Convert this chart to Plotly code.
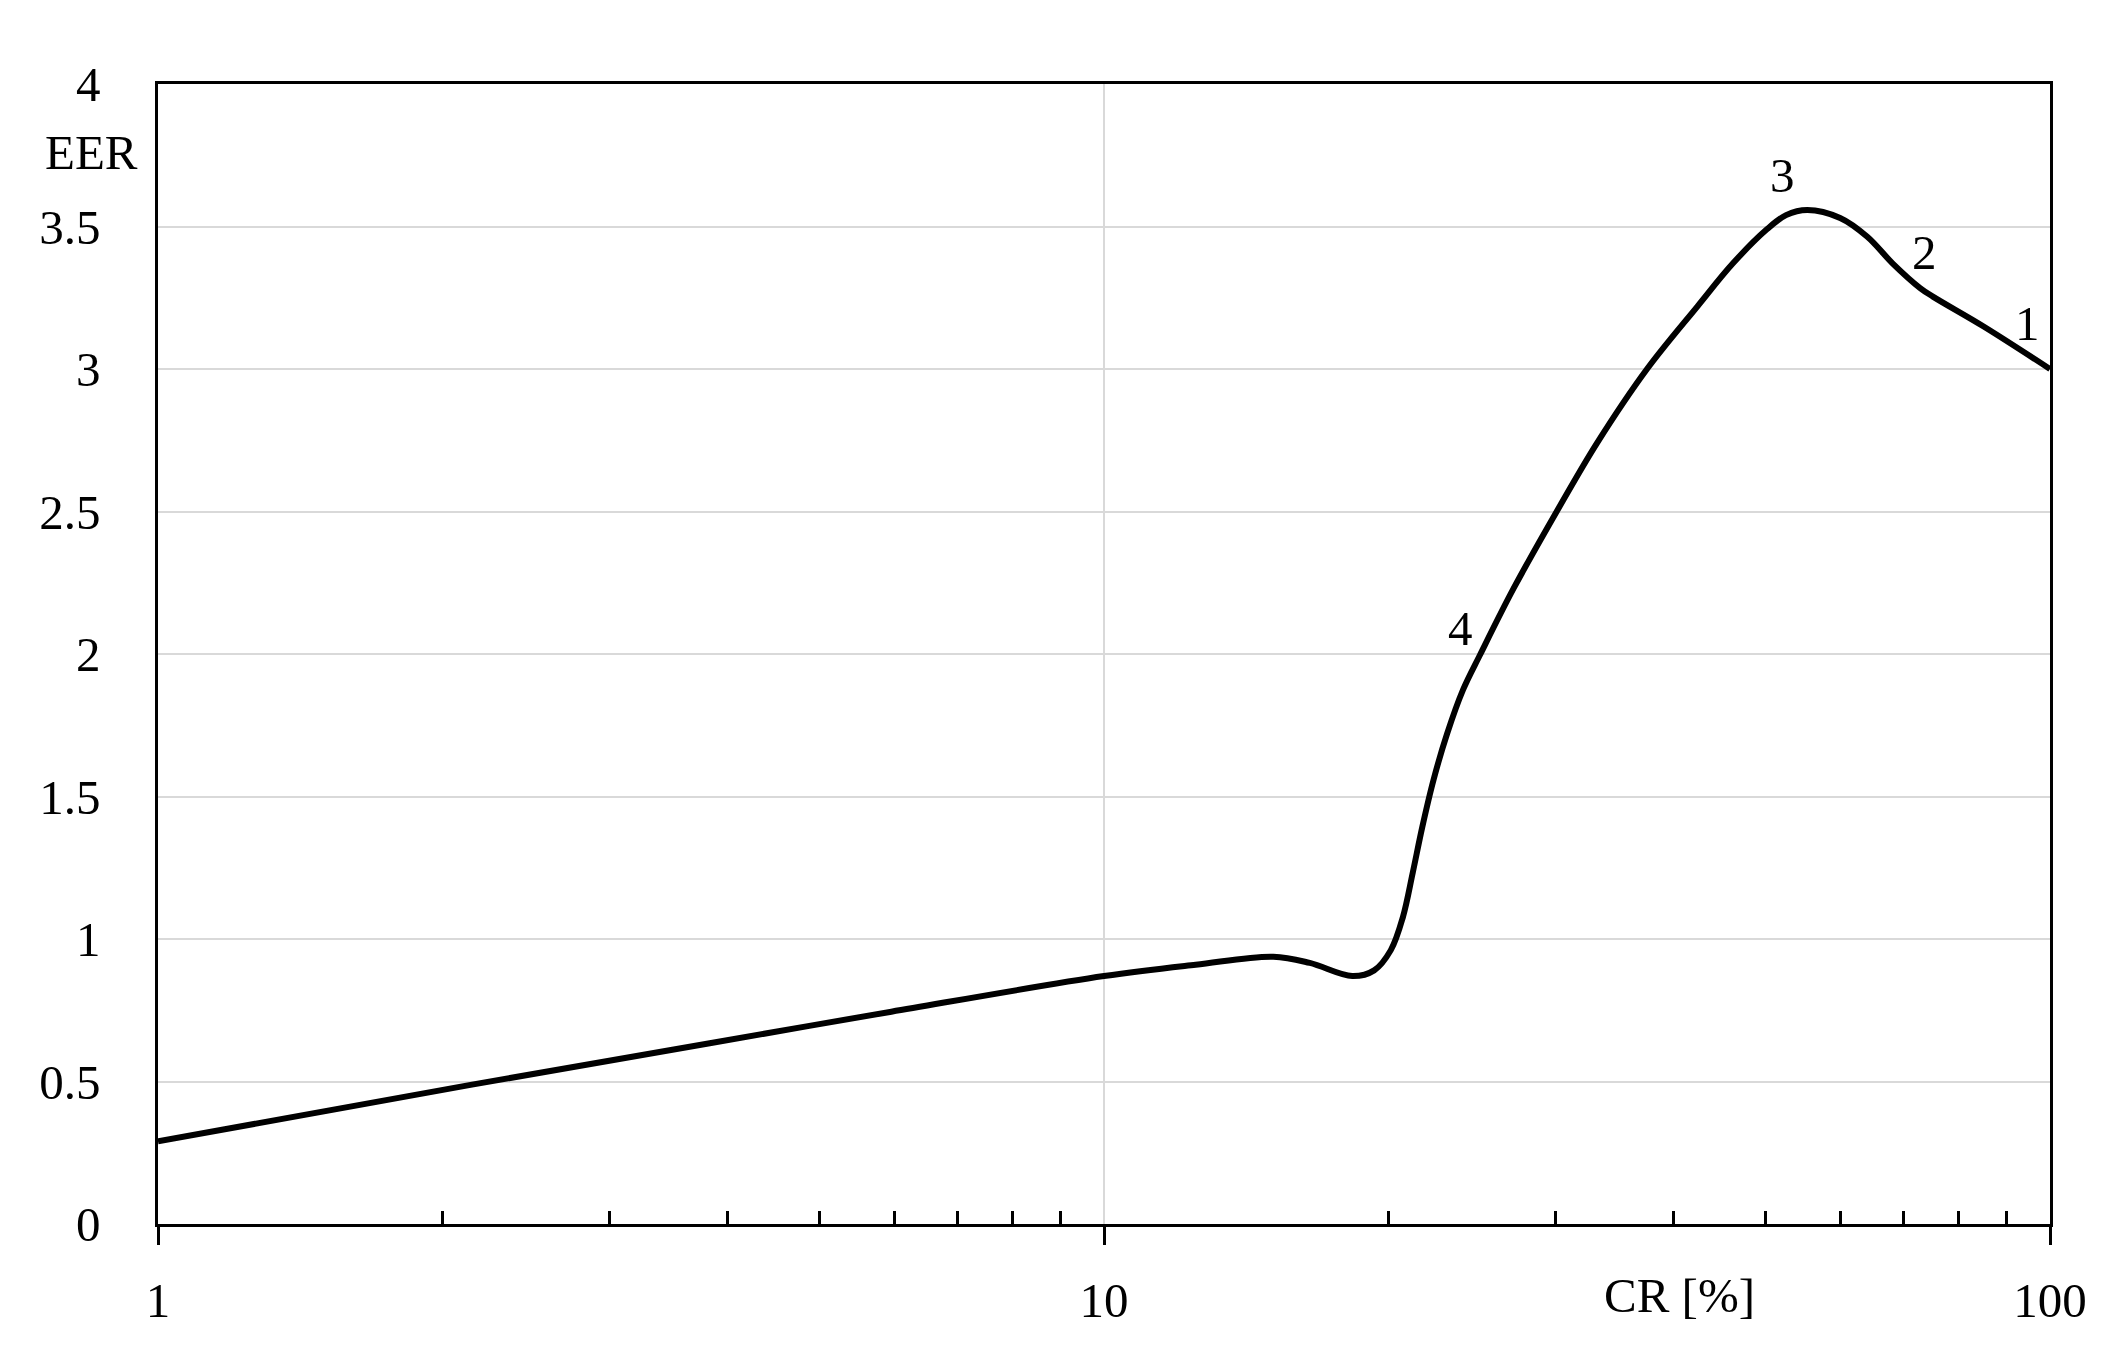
import math
import plotly.graph_objects as go

# Data
cr = [1, 2.14, 3.83, 5.96, 10, 12.5, 15.1, 16.5, 18.3, 19.3, 20.1, 20.7, 21.2, 21.7,
      22.3, 23.05, 23.96, 25.0, 27.1, 30.1, 33.2, 37.5, 42.4, 46.2, 50.2, 52.6, 55.4,
      60.0, 64.1, 68.2, 72.9, 75.2, 85.0, 100]
eer = [0.29, 0.488, 0.634, 0.745, 0.870, 0.91, 0.938, 0.916, 0.870, 0.89, 0.961, 1.077,
       1.232, 1.393, 1.558, 1.72, 1.874, 2.0, 2.23, 2.5, 2.74, 3.0, 3.22, 3.37, 3.49,
       3.54, 3.558, 3.53, 3.464, 3.37, 3.284, 3.254, 3.15, 3.0]

point_labels = ["1", "2", "3", "4"]
point_label_x = [94.6, 73.6, 52.1, 23.8]
point_label_y = [3.16, 3.41, 3.68, 2.09]

x_major = [1, 10, 100]
x_minor = [2, 3, 4, 5, 6, 7, 8, 9, 20, 30, 40, 50, 60, 70, 80, 90]

FONT = "Liberation Serif"
FS = 49

fig = go.Figure()
fig.add_trace(go.Scatter(x=cr, y=eer, mode="lines",
                         line=dict(color="black", width=6, shape="spline", smoothing=1.0),
                         showlegend=False, hoverinfo="skip"))

for t, x, y in zip(point_labels, point_label_x, point_label_y):
    fig.add_annotation(x=math.log10(x), y=y, text=t, showarrow=False,
                       xanchor="center", yanchor="middle",
                       font=dict(family=FONT, size=FS, color="black"))

fig.add_annotation(xref="paper", yref="y", x=-0.0354, y=3.76, text="EER", showarrow=False,
                   xanchor="center", yanchor="middle",
                   font=dict(family=FONT, size=FS, color="black"))
fig.add_annotation(xref="paper", yref="paper", x=0.8044, y=-0.063, text="CR [%]",
                   showarrow=False, xanchor="center", yanchor="middle",
                   font=dict(family=FONT, size=FS, color="black"))

fig.update_xaxes(type="log", range=[0, 2], tickmode="array", tickvals=x_major,
                 ticktext=[str(v) for v in x_major],
                 ticks="outside", ticklen=18, tickwidth=2.5, tickcolor="black",
                 ticklabelstandoff=13,
                 showline=True, linecolor="black", linewidth=2.5, mirror=True,
                 showgrid=True, gridcolor="#d9d9d9", gridwidth=2, zeroline=False,
                 minor=dict(tickmode="array", tickvals=x_minor, ticks="inside", ticklen=13,
                            tickwidth=2.5, tickcolor="black", showgrid=False),
                 tickfont=dict(family=FONT, size=FS, color="black"))
fig.update_yaxes(range=[0, 4], dtick=0.5, tick0=0, ticks="", ticklabelstandoff=45,
                 showline=True, linecolor="black", linewidth=2.5, mirror=True,
                 showgrid=True, gridcolor="#d9d9d9", gridwidth=2, zeroline=False,
                 tickfont=dict(family=FONT, size=FS, color="black"))

fig.update_layout(width=2100, height=1347, plot_bgcolor="white", paper_bgcolor="white",
                  margin=dict(l=150, r=58, t=76, b=131))

fig.write_html("out.html")
